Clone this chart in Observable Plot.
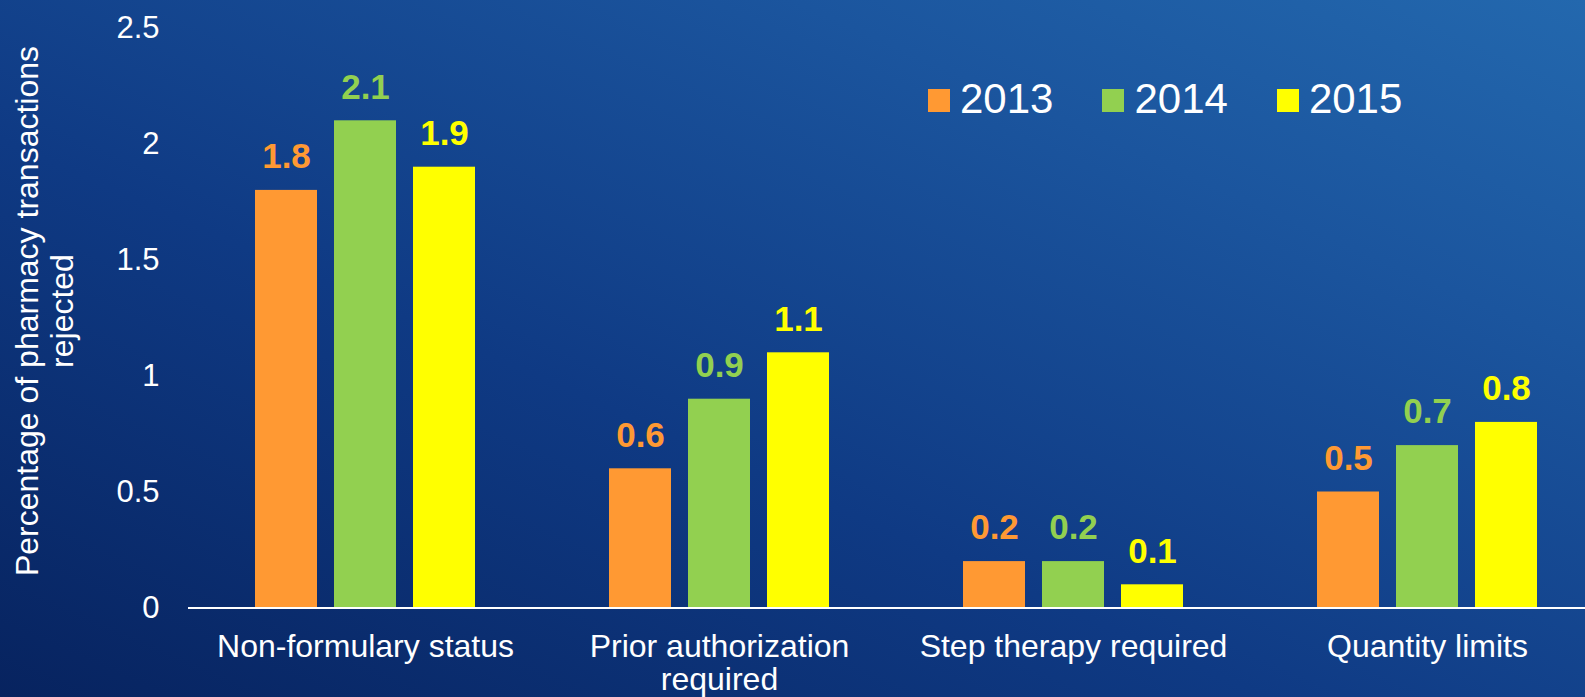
<!DOCTYPE html>
<html>
<head>
<meta charset="utf-8">
<script src="https://cdn.jsdelivr.net/npm/d3@7"></script>
<script src="https://cdn.jsdelivr.net/npm/@observablehq/plot@0.6"></script>
<style>
  html, body { margin: 0; padding: 0; overflow: hidden; }
  body {
    width: 1585px; height: 697px; position: relative;
    background: linear-gradient(to top right, #07235f 0%, #0f3a84 40%, #1b559e 75%, #2368ae 100%);
    font-family: "Liberation Sans", Arial, sans-serif; color: white;
  }
  #chart { position: absolute; left: 0; top: 0; }
  #ylabel {
    position: absolute; left: -235px; top: 276px; width: 560px; height: 70px;
    font-size: 32px; line-height: 35px; text-align: center; white-space: pre;
    transform: rotate(-90deg); transform-origin: 50% 50%;
  }
  #legend {
    position: absolute; left: 928px; top: 75px; display: flex; align-items: center;
    font-size: 42px; gap: 49px;
  }
  #legend .item { display: flex; align-items: center; }
  #legend .sw { width: 22px; height: 23px; margin-right: 10px; margin-top: 3px; }
</style>
</head>
<body>
<div id="chart"></div>
<div id="ylabel"></div>
<div id="legend"></div>
<script>
const categories = ["Non-formulary status", "Prior authorization\nrequired", "Step therapy required", "Quantity limits"];
const years = ["2013", "2014", "2015"];
const v2013 = [1.8, 0.6, 0.2, 0.5];
const v2014 = [2.1, 0.9, 0.2, 0.7];
const v2015 = [1.9, 1.1, 0.1, 0.8];
const yTicks = [0, 0.5, 1, 1.5, 2, 2.5];
const colors = ["#FF9933", "#92D050", "#FFFF00"];
const yTitle = "Percentage of pharmacy transactions\nrejected";

const series = [v2013, v2014, v2015];
const rows = [];
categories.forEach((c, i) => {
  years.forEach((y, j) => rows.push({category: c, year: y, value: series[j][i]}));
});

const fmt = d3.format(".1f");

const chart = Plot.plot({
  width: 1585,
  height: 697,
  marginLeft: 188,
  marginRight: -19,
  marginTop: 27.5,
  marginBottom: 89.5,
  style: {background: "transparent", color: "white", fontFamily: "'Liberation Sans', Arial, sans-serif", fontSize: "32px", overflow: "visible"},
  fx: {domain: categories, padding: 0, label: null},
  x: {domain: years, paddingInner: 17 / 79, paddingOuter: 0.848, axis: null},
  y: {domain: [0, 2.5], label: null},
  color: {domain: years, range: colors},
  marks: [
    Plot.barY(rows, {fx: "category", x: "year", y: "value", fill: "year"}),
    Plot.text(rows, {
      fx: "category", x: "year", y: "value", text: d => fmt(d.value), fill: "year",
      fontWeight: "bold", fontSize: 35, lineAnchor: "middle", dy: -33.5
    }),
    Plot.ruleY([0], {stroke: "white", strokeWidth: 2}),
    Plot.axisY({ticks: yTicks, tickSize: 0, tickPadding: 29, fontSize: 31, label: null, tickFormat: d => String(d)}),
    Plot.axisFx({anchor: "bottom", tickSize: 0, tickPadding: 26, fontSize: 32, lineHeight: 1.03, label: null})
  ]
});
document.getElementById("chart").appendChild(chart);

document.getElementById("ylabel").textContent = yTitle;

const legend = document.getElementById("legend");
years.forEach((y, j) => {
  const item = document.createElement("div");
  item.className = "item";
  const sw = document.createElement("div");
  sw.className = "sw";
  sw.style.background = colors[j];
  const t = document.createElement("span");
  t.textContent = y;
  item.appendChild(sw);
  item.appendChild(t);
  legend.appendChild(item);
});
</script>
</body>
</html>
